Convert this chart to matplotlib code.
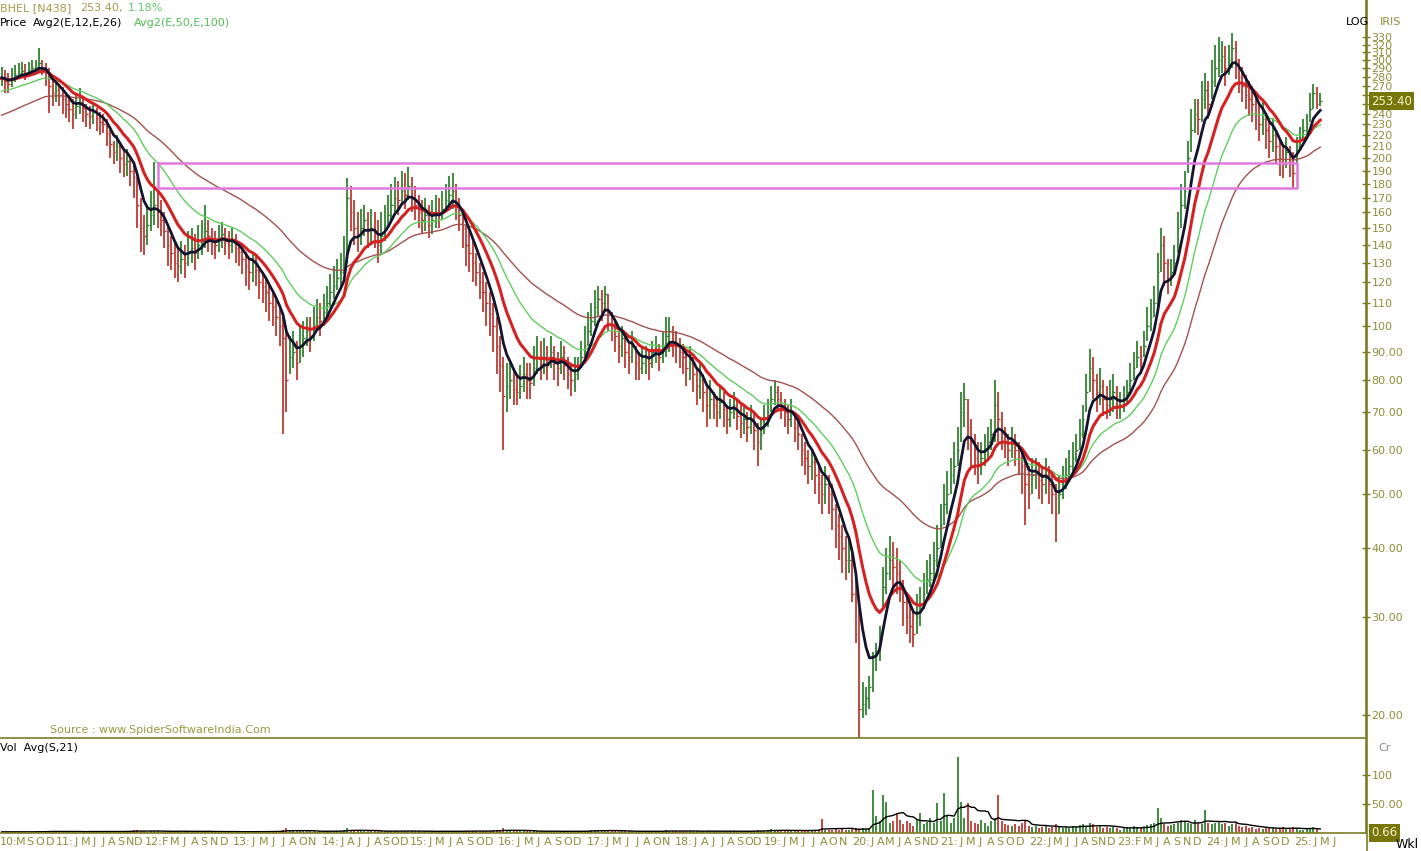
import numpy as np
import pandas as pd
import matplotlib
matplotlib.use("Agg")
import matplotlib.pyplot as plt
from matplotlib.ticker import FixedLocator, NullLocator
from matplotlib.transforms import blended_transform_factory

# ---------------- data: two-week bars ----------------
start_date = "2010-07-02"
bar_weeks = 2

close = [
    280, 275, 272, 278, 282, 285, 287, 284, 288, 290,
    292, 296, 290, 288, 270, 262, 265, 260, 255, 250,
    245, 240, 248, 252, 246, 240, 238, 242, 236, 232,
    230, 222, 212, 205, 210, 200, 195, 198, 190, 185,
    165, 150, 145, 152, 158, 165, 160, 155, 148, 140,
    135, 130, 128, 132, 130, 136, 138, 135, 140, 142,
    148, 145, 142, 140, 144, 146, 142, 140, 143, 138,
    136, 132, 128, 125, 130, 126, 120, 118, 115, 110,
    108, 104, 100, 95, 80, 88, 90, 86, 92, 95,
    98, 96, 100, 104, 102, 106, 110, 115, 118, 122,
    125, 130, 170, 160, 150, 145, 150, 155, 148, 150,
    148, 140, 145, 152, 158, 165, 170, 168, 175, 172,
    178, 170, 165, 160, 155, 158, 152, 155, 160, 158,
    162, 168, 172, 175, 165, 158, 150, 140, 135, 130,
    125, 120, 115, 110, 105, 100, 92, 85, 75, 78,
    80, 77, 76, 78, 82, 80, 79, 84, 88, 86,
    88, 85, 90, 86, 84, 88, 85, 82, 80, 82,
    84, 88, 92, 98, 102, 108, 112, 110, 114, 106,
    100, 96, 92, 95, 90, 88, 92, 86, 84, 86,
    88, 86, 90, 92, 88, 92, 96, 98, 94, 92,
    90, 88, 84, 86, 82, 78, 80, 76, 72, 74,
    72, 70, 73, 71, 68, 70, 72, 69, 67, 68,
    66, 68, 65, 62, 64, 68, 70, 74, 76, 74,
    72, 70, 68, 70, 66, 64, 60, 58, 56, 57,
    54, 52, 50, 52, 50, 47, 44, 42, 40, 38,
    38, 33, 28, 20.5, 21, 21.5, 22.5, 25.5, 26, 28,
    34, 36, 38, 37, 36, 35, 32, 30, 29, 28,
    30, 31, 33, 35, 36, 38, 40, 44, 48, 50,
    54, 56, 60, 70, 74, 66, 62, 58, 56, 58,
    60, 62, 64, 72, 68, 64, 62, 60, 62, 60,
    58, 56, 52, 50, 54, 55, 53, 52, 54, 52,
    50, 46, 50, 52, 54, 56, 58, 60, 64, 68,
    76, 84, 80, 76, 78, 74, 72, 74, 76, 72,
    72, 74, 76, 80, 84, 88, 86, 92, 100, 104,
    110, 125, 140, 130, 122, 125, 130, 150, 165, 175,
    200, 225, 240, 235, 255, 265, 250, 275, 290, 300,
    305, 290, 300, 315, 300, 280, 270, 260, 255, 250,
    240, 230, 235, 225, 215, 220, 210, 200, 195, 205,
    195, 188, 210, 218, 225, 230, 245, 262, 250.4, 253.4,
]

high = [
    292, 288, 285, 290, 294, 296, 298, 295, 298, 300,
    300, 315, 300, 296, 290, 276, 275, 272, 268, 262,
    260, 255, 262, 267, 258, 250, 248, 252, 246, 242,
    240, 235, 225, 215, 220, 212, 206, 208, 200, 196,
    185, 170, 158, 165, 175, 197, 175, 168, 160, 152,
    145, 142, 138, 142, 140, 148, 150, 146, 152, 155,
    165, 155, 150, 148, 152, 154, 150, 148, 150, 146,
    142, 140, 136, 132, 136, 134, 128, 125, 122, 118,
    116, 112, 108, 104, 98, 96, 98, 94, 100, 102,
    104, 104, 108, 112, 110, 114, 118, 124, 128, 132,
    135, 145, 184, 178, 168, 160, 162, 165, 160, 162,
    160, 155, 160, 165, 172, 180, 185, 182, 190, 188,
    193, 185, 178, 172, 168, 170, 165, 168, 172, 170,
    175, 180, 186, 188, 180, 170, 160, 152, 148, 142,
    135, 130, 125, 120, 115, 110, 104, 96, 88, 86,
    86, 84, 82, 85, 88, 86, 86, 92, 96, 94,
    95, 92, 96, 92, 90, 94, 92, 88, 86, 88,
    88, 94, 100, 106, 110, 116, 118, 116, 118, 114,
    106, 102, 98, 100, 96, 94, 98, 92, 90, 92,
    92, 90, 94, 96, 93, 98, 104, 104, 100, 98,
    95, 93, 90, 92, 88, 84, 86, 82, 78, 80,
    76, 75, 78, 76, 72, 74, 76, 74, 72, 72,
    70, 72, 70, 67, 68, 72, 74, 78, 80, 78,
    76, 74, 72, 74, 70, 68, 64, 62, 60, 60,
    58, 56, 54, 56, 54, 52, 48, 46, 44, 42,
    42, 40, 36, 31, 23, 22.5, 23.5, 26, 27, 29,
    37, 40, 42, 41, 40, 38, 35, 33, 32, 31,
    33, 34, 36, 38, 39, 41, 44, 48, 52, 55,
    58, 62, 66, 76, 79, 74, 68, 64, 62, 62,
    64, 66, 68, 80, 76, 70, 66, 64, 66, 64,
    62, 60, 57, 56, 58, 58, 57, 56, 58, 56,
    54, 52, 54, 56, 58, 60, 62, 64, 68, 72,
    82, 91, 88, 82, 84, 80, 78, 80, 82, 78,
    76, 78, 80, 86, 90, 94, 92, 98, 108, 112,
    118, 135, 150, 145, 132, 132, 140, 160, 180, 190,
    215, 245, 255, 255, 275, 285, 275, 300, 320, 330,
    325, 318, 320, 335, 325, 302, 292, 282, 275, 270,
    258, 250, 252, 240, 232, 236, 225, 215, 212, 218,
    210, 205, 218, 228, 235, 240, 262, 272, 268, 262,
]

low = [
    270, 262, 262, 268, 274, 277, 279, 276, 280, 282,
    284, 286, 282, 270, 241, 248, 252, 248, 240, 236,
    232, 226, 235, 240, 232, 228, 226, 230, 224, 220,
    222, 210, 200, 195, 198, 188, 185, 186, 178, 170,
    150, 136, 134, 140, 148, 152, 150, 145, 138, 128,
    126, 122, 120, 124, 122, 128, 130, 126, 132, 134,
    138, 136, 134, 132, 136, 138, 134, 132, 135, 130,
    128, 124, 118, 116, 120, 118, 112, 110, 106, 102,
    100, 96, 92, 64, 70, 82, 84, 80, 86, 88,
    92, 90, 94, 98, 96, 100, 104, 108, 112, 116,
    118, 124, 130, 148, 140, 136, 140, 145, 138, 140,
    138, 130, 135, 142, 150, 155, 160, 158, 165, 162,
    168, 160, 155, 150, 146, 148, 144, 146, 150, 150,
    155, 160, 165, 162, 155, 148, 138, 128, 125, 120,
    118, 112, 106, 100, 96, 90, 82, 76, 60, 70,
    74, 72, 72, 74, 76, 74, 74, 78, 82, 80,
    82, 80, 84, 80, 78, 82, 80, 77, 75, 76,
    80, 84, 88, 92, 96, 100, 104, 102, 106, 98,
    94, 90, 86, 88, 84, 82, 86, 80, 80, 82,
    82, 80, 84, 86, 83, 86, 88, 90, 88, 86,
    84, 82, 78, 80, 76, 72, 74, 70, 66, 68,
    68, 66, 68, 66, 64, 66, 68, 65, 63, 64,
    62, 64, 60, 56, 60, 64, 66, 70, 72, 70,
    68, 66, 64, 66, 62, 60, 56, 54, 52, 53,
    50, 48, 46, 48, 46, 43, 40, 38, 36, 35,
    36, 32, 27, 18.0, 19.8, 20, 20.5, 22, 24, 25,
    31, 33, 35, 34, 33, 32, 29, 28, 27, 26.5,
    28, 29, 31, 33, 34, 35, 37, 40, 44, 46,
    50, 52, 56, 62, 66, 60, 56, 54, 52, 54,
    56, 58, 60, 62, 62, 60, 58, 56, 58, 56,
    54, 50, 44, 47, 50, 51, 49, 48, 50, 48,
    46, 41, 46, 49, 51, 53, 55, 57, 60, 63,
    70, 76, 74, 70, 72, 69, 68, 69, 70, 68,
    68, 70, 72, 76, 80, 84, 82, 88, 94, 98,
    104, 108, 125, 118, 114, 118, 124, 135, 150, 162,
    188, 205, 222, 220, 232, 245, 235, 255, 268, 280,
    285, 270, 282, 290, 278, 262, 252, 245, 238, 232,
    225, 215, 220, 208, 200, 205, 195, 186, 184, 192,
    185, 177, 195, 208, 215, 222, 232, 245, 245, 248,
]

volume = [  # crore shares
    2, 2, 1.5, 2, 2, 1.5, 2, 2.5, 2, 2,
    3, 4, 2, 2, 4, 3, 2, 2, 2, 3,
    2, 3, 2, 3, 2, 2, 4, 2, 2, 3,
    2, 3, 3, 2, 3, 2, 4, 3, 3, 5,
    5, 3, 3, 2, 3, 4, 3, 2, 3, 3,
    3, 3, 4, 3, 2, 3, 2, 3, 2, 3,
    4, 3, 2, 2, 2, 2, 2, 2, 3, 2,
    2, 2, 3, 2, 2, 2, 3, 2, 3, 3,
    3, 4, 3, 6, 8, 4, 3, 4, 3, 3,
    3, 3, 3, 2, 3, 3, 3, 4, 3, 4,
    4, 5, 9, 6, 4, 4, 3, 3, 3, 3,
    3, 4, 3, 3, 3, 4, 3, 3, 4, 3,
    4, 3, 3, 3, 2, 3, 3, 3, 2, 3,
    3, 3, 4, 3, 3, 3, 3, 4, 4, 3,
    3, 3, 3, 3, 4, 5, 5, 6, 8, 5,
    4, 3, 3, 3, 3, 4, 3, 3, 3, 3,
    3, 3, 3, 3, 3, 2, 3, 3, 3, 3,
    3, 3, 4, 4, 5, 6, 5, 4, 4, 4,
    3, 3, 3, 3, 3, 3, 3, 2, 3, 3,
    3, 3, 3, 3, 3, 4, 5, 4, 3, 3,
    3, 4, 3, 3, 3, 3, 3, 3, 4, 3,
    3, 3, 3, 3, 3, 3, 3, 3, 3, 3,
    3, 3, 4, 5, 4, 4, 5, 7, 5, 4,
    4, 4, 3, 4, 4, 4, 5, 5, 5, 6,
    5, 6, 24, 6, 5, 6, 7, 6, 7, 6,
    6, 7, 8, 7, 8, 7, 8, 74, 30, 20,
    65, 53, 18, 20, 34, 22, 15, 20, 17, 12,
    22, 34, 15, 19, 25, 18, 52, 20, 69, 30,
    18, 25, 131, 54, 25, 51, 20, 18, 15, 22,
    18, 12, 20, 25, 65, 20, 15, 14, 12, 16,
    12, 18, 20, 12, 10, 12, 8, 10, 12, 8,
    10, 15, 12, 8, 10, 8, 12, 10, 14, 15,
    12, 18, 15, 10, 12, 8, 10, 8, 10, 8,
    6, 8, 10, 8, 12, 10, 8, 12, 14, 16,
    18, 43, 25, 15, 12, 14, 15, 18, 22, 20,
    18, 15, 22, 18, 15, 40, 18, 15, 18, 20,
    15, 18, 12, 15, 18, 12, 10, 12, 8, 10,
    7, 8, 7, 8, 10, 8, 7, 8, 10, 7,
    8, 10, 7, 5, 6, 7, 8, 10, 7, 0.66,
]

# moving-average settings from the legend, and their levels at the first bar
ema_weeks = [12, 26, 50, 100]
ema_seed = [279, 278, 264, 239]
vol_avg_weeks = 21

# support zone drawn on the chart
zone_high, zone_low = 196, 177
zone_first_bar, zone_last_bar = 46, 382

# x-axis month labels
label_years = list(range(2010, 2026))
label_months = ["MSOD", "JMJJASND", "FMJASND", "JMJJAON", "JAJJASOD", "JMJASOD",
                "JMJASOD", "JMJJAON", "JAJJASOD", "JMJJAON", "JAMJASND", "JMJASOD",
                "JMJJASND", "FMJASND", "JMJASOD", "JMJ"]

price_ticks = [330, 320, 310, 300, 290, 280, 270, 260, 250, 240, 230, 220, 210, 200,
               190, 180, 170, 160, 150, 140, 130, 120, 110, 100, 90, 80, 70, 60, 50,
               40, 30, 20]
hidden_price_labels = [260, 250]   # covered by the last-price box on the chart
vol_ticks = [100, 50]

# ---------------- drawing ----------------
W, H = 1421, 851
OLIVE_LINE = "#7c7c24"
OLIVE_TXT = "#8e8e3a"
UP_COL = "#2a7d2a"
DN_COL = "#b8322c"

fig = plt.figure(figsize=(W / 100, H / 100), dpi=100)
fig.patch.set_facecolor("white")
ax = fig.add_axes([0, 1 - 738 / H, 1366 / W, 738 / H])
axv = fig.add_axes([0, 1 - 833 / H, 1366 / W, 93 / H])

c = np.array(close, float)
hi = np.array(high, float)
lo = np.array(low, float)
vol = np.array(volume, float)
n = len(c)
idx = np.arange(n)
prev = np.r_[c[0], c[:-1]]
cols = np.where(c >= prev, UP_COL, DN_COL)

ax.vlines(idx, lo, hi, colors=cols, lw=1.25, zorder=2)
ax.hlines(c, idx, idx + 0.45, colors=cols, lw=1.0, zorder=2)


def ema(values, weeks, seed):
    alpha = 2.0 / (weeks / bar_weeks + 1.0)
    out = [seed]
    for v in values[1:]:
        out.append(out[-1] + alpha * (v - out[-1]))
    return np.array(out)


e12, e26, e50, e100 = [ema(c, w, s) for w, s in zip(ema_weeks, ema_seed)]
ax.plot(idx, e100, color="#a4524e", lw=1.0, zorder=3)
ax.plot(idx, e50, color="#5fce5f", lw=1.0, zorder=3)
ax.plot(idx, e26, color="#d42222", lw=2.2, zorder=4)
ax.plot(idx, e12, color="#14142e", lw=2.0, zorder=5)

ax.plot([zone_first_bar, zone_last_bar, zone_last_bar, zone_first_bar, zone_first_bar],
        [zone_high, zone_high, zone_low, zone_low, zone_high],
        color="#e07ae0", lw=1.8, zorder=6)

ax.set_yscale("log")
ax.set_ylim(18.22, 384.7)
ax.set_xlim(-0.5, 402.5)
ax.yaxis.set_major_locator(FixedLocator(price_ticks))
ax.yaxis.set_minor_locator(NullLocator())
price_labels = ["" if t in hidden_price_labels else (f"{t}" if t >= 100 else f"{t:.2f}")
                for t in price_ticks]
ax.set_yticks(price_ticks, price_labels)
ax.yaxis.tick_right()
ax.tick_params(axis="y", direction="inout", length=6, width=1, color=OLIVE_LINE,
               labelcolor=OLIVE_TXT, labelsize=8, pad=1)
ax.set_xticks([])
for s in ["left", "top"]:
    ax.spines[s].set_visible(False)
for s in ["right", "bottom"]:
    ax.spines[s].set_color(OLIVE_LINE)
    ax.spines[s].set_linewidth(1.2)

# volume panel
axv.vlines(idx, 0, vol, colors=cols, lw=1.25)
vavg = pd.Series(vol).rolling(round(vol_avg_weeks / bar_weeks), min_periods=1).mean()
axv.plot(idx, vavg, color="black", lw=1.0)
axv.set_xlim(ax.get_xlim())
axv.set_ylim(0, 160)
axv.set_yticks(vol_ticks, ["100", "50.00"])
axv.yaxis.tick_right()
axv.tick_params(axis="y", direction="inout", length=6, width=1, color=OLIVE_LINE,
                labelcolor=OLIVE_TXT, labelsize=8, pad=1)
axv.set_xticks([])
for s in ["left", "top"]:
    axv.spines[s].set_visible(False)
for s in ["right", "bottom"]:
    axv.spines[s].set_color(OLIVE_LINE)
    axv.spines[s].set_linewidth(1.2)

# last-value boxes
ax.text(1.004, c[-1], f"{c[-1]:.2f}", transform=ax.get_yaxis_transform(),
        ha="left", va="center", fontsize=8.5, color="#f5f5cc", zorder=10, clip_on=False,
        bbox=dict(boxstyle="square,pad=0.18", fc="#76760a", ec="none"))
axv.text(1.004, 0, f"{vol[-1]:.2f}", transform=axv.get_yaxis_transform(),
         ha="left", va="center", fontsize=8.5, color="#f0f0c8", zorder=10, clip_on=False,
         bbox=dict(boxstyle="square,pad=0.18", fc="#76760a", ec="none"))

# x labels: each year's group spread over the space up to the next year's group
start = pd.Timestamp(start_date)
label_offset = 3.0
first_letter = 6.0
max_pitch = 2.9
blend = blended_transform_factory(axv.transData, axv.transAxes)
starts = []
for k, yr in enumerate(label_years):
    if k == 0:
        starts.append(-0.5)
    else:
        starts.append((pd.Timestamp(f"{yr}-01-01") - start).days / (7 * bar_weeks) + label_offset)
for k, (yr, letters) in enumerate(zip(label_years, label_months)):
    x0 = starts[k]
    if k + 1 < len(starts) and len(letters) > 1:
        pitch = min(max_pitch, (starts[k + 1] - x0 - first_letter - 1.8) / (len(letters) - 1))
    else:
        pitch = max_pitch
    axv.text(x0, -0.1, f"{yr % 100:02d}:", transform=blend, ha="left", va="center",
             fontsize=8, color=OLIVE_TXT, clip_on=False)
    for j, ch in enumerate(letters):
        axv.text(x0 + first_letter + j * pitch, -0.1, ch, transform=blend, ha="center",
                 va="center", fontsize=8, color=OLIVE_TXT, clip_on=False)


def ftext(x, y, s, **kw):
    kw.setdefault("fontsize", 8)
    fig.text(x / W, 1 - y / H, s, ha="left", va="center", **kw)


ftext(0, 8, "BHEL [N438]", color="#a89a4e")
ftext(80, 8, "253.40,", color="#a89a4e")
ftext(128, 8, "1.18%", color="#64c864")
ftext(0, 23, "Price", color="black")
ftext(33, 23, "Avg2(E,12,E,26)", color="black")
ftext(134, 23, "Avg2(E,50,E,100)", color="#52be52")
ftext(50, 730, "Source : www.SpiderSoftwareIndia.Com", color="#9a9a42")
ftext(0, 748, "Vol  Avg(S,21)", color="black")
ftext(1346, 22, "LOG", color="black")
ftext(1380, 22, "IRIS", color=OLIVE_TXT)
ftext(1378, 748, "Cr", color="#8a8a8a")
ftext(1396, 844, "Wkl", color="black", fontsize=9)

fig.add_artist(plt.Line2D([1366.5 / W, 1366.5 / W], [0, 1], color=OLIVE_LINE, lw=1.2))

fig.savefig("out.png", dpi=100, facecolor="white")
